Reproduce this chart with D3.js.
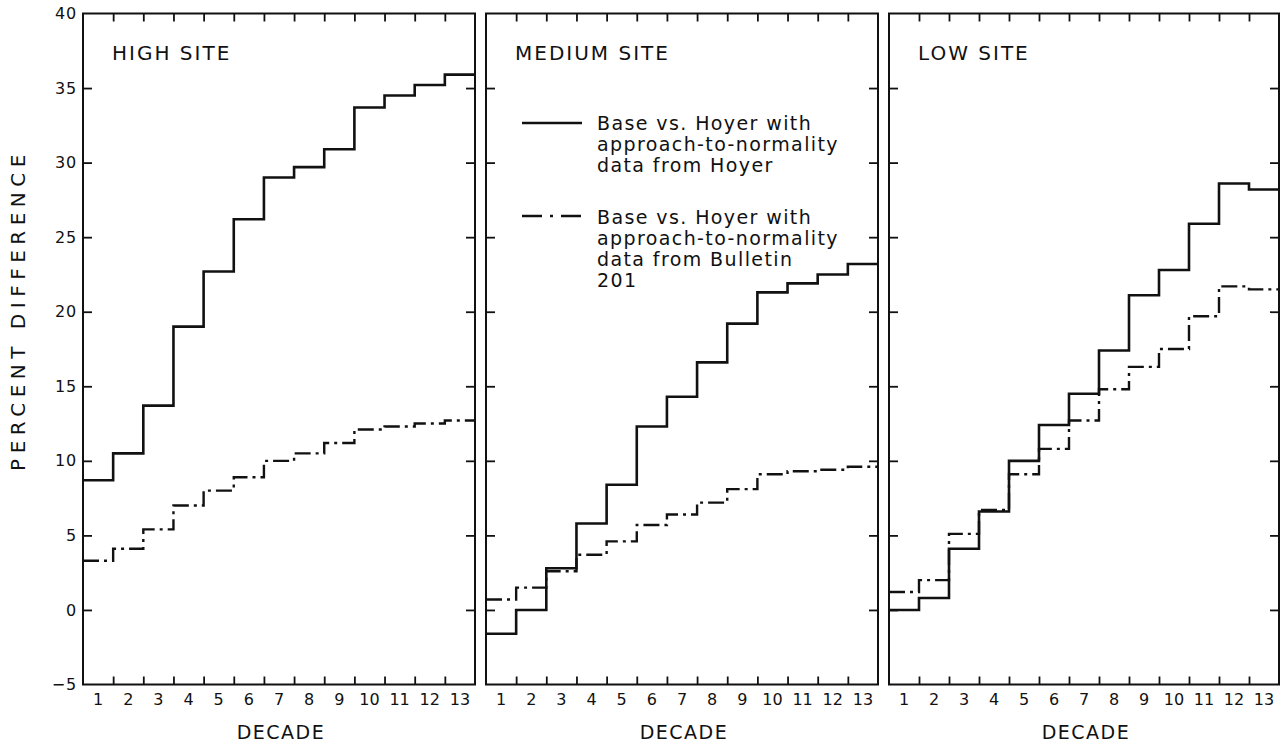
<!DOCTYPE html>
<html>
<head>
<meta charset="utf-8">
<script src="https://cdn.jsdelivr.net/npm/d3@7"></script>
<style>
  body { margin: 0; background: #fff; }
  text { font-family: "DejaVu Sans", sans-serif; fill: #111; }
</style>
</head>
<body>
<svg id="chart" width="1281" height="747"></svg>
<script>
// Decades along the x axis and percent ticks on the y axis
const decades = [1, 2, 3, 4, 5, 6, 7, 8, 9, 10, 11, 12, 13];
const percentTicks = [-5, 0, 5, 10, 15, 20, 25, 30, 35, 40];
const siteNames = ["HIGH SITE", "MEDIUM SITE", "LOW SITE"];

// Base vs. Hoyer, approach-to-normality data from Hoyer (percent difference per decade)
const hoyerHigh   = [8.7, 10.5, 13.7, 19.0, 22.7, 26.2, 29.0, 29.7, 30.9, 33.7, 34.5, 35.2, 35.9];
const hoyerMedium = [-1.6, 0.0, 2.8, 5.8, 8.4, 12.3, 14.3, 16.6, 19.2, 21.3, 21.9, 22.5, 23.2];
const hoyerLow    = [0.0, 0.8, 4.1, 6.6, 10.0, 12.4, 14.5, 17.4, 21.1, 22.8, 25.9, 28.6, 28.2];

// Base vs. Hoyer, approach-to-normality data from Bulletin 201
const bulletinHigh   = [3.3, 4.1, 5.4, 7.0, 8.0, 8.9, 10.0, 10.5, 11.2, 12.1, 12.3, 12.5, 12.7];
const bulletinMedium = [0.7, 1.5, 2.6, 3.7, 4.6, 5.7, 6.4, 7.2, 8.1, 9.1, 9.3, 9.4, 9.6];
const bulletinLow    = [1.2, 2.0, 5.1, 6.7, 9.1, 10.8, 12.7, 14.8, 16.3, 17.5, 19.7, 21.7, 21.5];

const legendLabels = [
  ["Base  vs. Hoyer  with", "approach-to-normality", "data from Hoyer"],
  ["Base  vs. Hoyer  with", "approach-to-normality", "data from Bulletin", "201"]
];

const hoyerSeries = [hoyerHigh, hoyerMedium, hoyerLow];
const bulletinSeries = [bulletinHigh, bulletinMedium, bulletinLow];

const svg = d3.select("#chart");
const plotTop = 13.5, plotBottom = 684.5;
const panelEdges = [[83, 475], [486, 878], [889, 1279]];
const dashDot = "16,5,3,5";

const y = d3.scaleLinear().domain([-5, 40]).range([plotBottom, plotTop]);

panelEdges.forEach(([x0, x1], p) => {
  const g = svg.append("g");
  // continuous position: decade i occupies [i-1, i]
  const x = d3.scaleLinear().domain([0, decades.length]).range([x0, x1]);
  const band = d3.scaleBand().domain(decades).range([x0, x1]);

  // frame
  g.append("rect")
    .attr("x", x0).attr("y", plotTop)
    .attr("width", x1 - x0).attr("height", plotBottom - plotTop)
    .attr("fill", "none").attr("stroke", "#111").attr("stroke-width", 2);

  const inner = percentTicks.filter(v => v > -5 && v < 40);

  // left ticks (inward), labels only on the first panel
  const leftAxis = d3.axisLeft(y)
    .tickValues(p === 0 ? percentTicks : inner)
    .tickSizeInner(-9).tickSizeOuter(0).tickPadding(6)
    .tickFormat(p === 0 ? (d => d < 0 ? "\u2212" + Math.abs(d) : d) : "");
  const la = g.append("g").attr("transform", `translate(${x0},0)`).call(leftAxis);
  la.select(".domain").remove();
  la.selectAll("line").attr("stroke", "#111").attr("stroke-width", 1.8)
    .filter(d => d === -5 || d === 40).remove();
  la.selectAll("text").attr("font-size", 16).attr("letter-spacing", 0.8).attr("fill", "#111");

  // right ticks (inward)
  const ra = g.append("g").attr("transform", `translate(${x1},0)`)
    .call(d3.axisRight(y).tickValues(inner).tickSizeInner(-9).tickSizeOuter(0).tickFormat(""));
  ra.select(".domain").remove();
  ra.selectAll("line").attr("stroke", "#111").attr("stroke-width", 1.8);

  // decade boundary ticks on top and bottom (inward)
  const bounds = d3.range(1, decades.length);
  const ta = g.append("g").attr("transform", `translate(0,${plotTop})`)
    .call(d3.axisTop(x).tickValues(bounds).tickSizeInner(-8).tickSizeOuter(0).tickFormat(""));
  ta.select(".domain").remove();
  ta.selectAll("line").attr("stroke", "#111").attr("stroke-width", 1.8);
  const ba = g.append("g").attr("transform", `translate(0,${plotBottom})`)
    .call(d3.axisBottom(x).tickValues(bounds).tickSizeInner(-8).tickSizeOuter(0).tickFormat(""));
  ba.select(".domain").remove();
  ba.selectAll("line").attr("stroke", "#111").attr("stroke-width", 1.8);

  // decade labels centred in each band
  const dl = g.append("g").attr("transform", `translate(0,${plotBottom})`)
    .call(d3.axisBottom(band).tickSize(0).tickPadding(9));
  dl.select(".domain").remove();
  dl.selectAll("text").attr("font-size", 16).attr("fill", "#111");

  // x axis title
  g.append("text")
    .attr("x", (x0 + x1) / 2 + 2).attr("y", 739)
    .attr("text-anchor", "middle")
    .attr("font-size", 19).attr("letter-spacing", 1.5)
    .text("DECADE");

  // site name
  g.append("text")
    .attr("x", x0 + 29).attr("y", 60)
    .attr("font-size", 20).attr("letter-spacing", 2)
    .text(siteNames[p]);

  // step lines
  const stepLine = d3.line()
    .x(d => x(d[0])).y(d => y(d[1]))
    .curve(d3.curveStepAfter);
  const toSteps = vals => vals.map((v, i) => [i, v]).concat([[vals.length, vals[vals.length - 1]]]);

  g.append("path")
    .attr("d", stepLine(toSteps(bulletinSeries[p])))
    .attr("fill", "none").attr("stroke", "#111").attr("stroke-width", 2.4)
    .attr("stroke-dasharray", dashDot);

  g.append("path")
    .attr("d", stepLine(toSteps(hoyerSeries[p])))
    .attr("fill", "none").attr("stroke", "#111").attr("stroke-width", 2.6);
});

// y axis title
svg.append("text")
  .attr("transform", "translate(25,310) rotate(-90)")
  .attr("text-anchor", "middle")
  .attr("font-size", 20).attr("letter-spacing", 5.5)
  .text("PERCENT DIFFERENCE");

// legend in the middle panel
const legend = svg.append("g");
const legendRows = [{ y: 123, base: 130, dash: null }, { y: 216, base: 224, dash: "20,8,3,8" }];
legendRows.forEach((row, i) => {
  legend.append("line")
    .attr("x1", 522).attr("x2", 582).attr("y1", row.y).attr("y2", row.y)
    .attr("stroke", "#111").attr("stroke-width", 2.4)
    .attr("stroke-dasharray", row.dash);
  legendLabels[i].forEach((t, k) => {
    legend.append("text")
      .attr("x", 597).attr("y", row.base + k * 21)
      .attr("font-size", 19).attr("letter-spacing", 1.4)
      .text(t);
  });
});
</script>
</body>
</html>
